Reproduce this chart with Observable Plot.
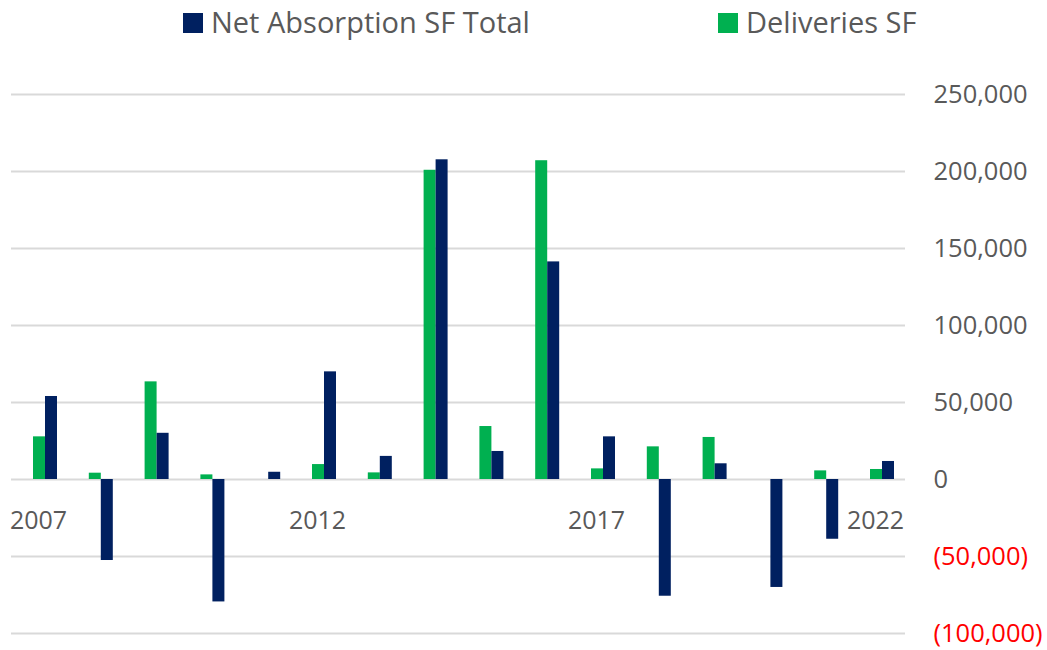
<!DOCTYPE html>
<html>
<head>
<meta charset="utf-8">
<script src="https://cdn.jsdelivr.net/npm/d3@7"></script>
<script src="https://cdn.jsdelivr.net/npm/@observablehq/plot@0.6"></script>
<style>
  html, body { margin: 0; padding: 0; background: #fff; }
  body { width: 1047px; height: 650px; overflow: hidden; font-family: "Open Sans", "Noto Sans", sans-serif; }
  #legend { position: relative; height: 46px; color: #595959; font-size: 29px; line-height: 40px; }
  #legend .sw { position: absolute; top: 13px; width: 20px; height: 20px; }
  #legend .lbl { position: absolute; top: 2px; white-space: nowrap; }
</style>
</head>
<body>
<div id="legend"></div>
<div id="chart"></div>
<script>
const years = [2007, 2008, 2009, 2010, 2011, 2012, 2013, 2014, 2015, 2016, 2017, 2018, 2019, 2020, 2021, 2022];
const deliveries = [27700, 4100, 63400, 3000, 0, 9700, 4300, 200800, 34400, 207000, 6900, 21200, 27300, 0, 5600, 6500];
const netAbsorption = [53900, -52600, 30000, -79500, 4700, 69900, 15000, 207600, 18200, 141300, 27700, -75800, 10200, -70100, -38800, 11700];
const seriesNames = ["Net Absorption SF Total", "Deliveries SF"];
const seriesColors = ["#002060", "#00B050"];
const yTicks = [-100000, -50000, 0, 50000, 100000, 150000, 200000, 250000];
const xLabelYears = [2007, 2012, 2017, 2022];

// legend
const legend = document.getElementById("legend");
const legendX = [183, 718];
seriesNames.forEach((name, i) => {
  const sw = document.createElement("span");
  sw.className = "sw";
  sw.style.left = legendX[i] + "px";
  sw.style.background = seriesColors[i];
  const lb = document.createElement("span");
  lb.className = "lbl";
  lb.style.left = (legendX[i] + 28) + "px";
  lb.textContent = name;
  legend.appendChild(sw);
  legend.appendChild(lb);
});

const delData = years.map((y, i) => ({year: y, value: deliveries[i]}));
const netData = years.map((y, i) => ({year: y, value: netAbsorption[i]}));

const fmtNum = d3.format(",");
const fmt = d => d < 0 ? `(${fmtNum(-d)})` : fmtNum(d);

const chart = Plot.plot({
  width: 1047,
  height: 604,
  marginLeft: 11,
  marginRight: 142,
  marginTop: 48,
  marginBottom: 17,
  style: {fontFamily: "'Open Sans', 'Noto Sans', sans-serif", background: "#fff"},
  x: {type: "band", domain: years, range: [39, 888], paddingInner: 0.785, paddingOuter: 0, round: false, axis: null},
  y: {domain: [-100000, 250000], axis: null},
  marks: [
    Plot.ruleY(yTicks, {stroke: "#D9D9D9", strokeWidth: 2}),
    Plot.barY(delData, {x: "year", y: "value", fill: seriesColors[1], dx: -6}),
    Plot.barY(netData, {x: "year", y: "value", fill: seriesColors[0], dx: 6}),
    Plot.text(yTicks, {
      y: d => d, frameAnchor: "right", textAnchor: "start", dx: 28,
      text: fmt, fill: d => d < 0 ? "#FF0000" : "#595959", fontSize: 25.5
    }),
    Plot.text(xLabelYears, {
      x: d => d, y: 0, dx: -7, dy: 41, text: d => String(d), fill: "#595959", fontSize: 25
    })
  ]
});
document.getElementById("chart").appendChild(chart);
</script>
</body>
</html>
